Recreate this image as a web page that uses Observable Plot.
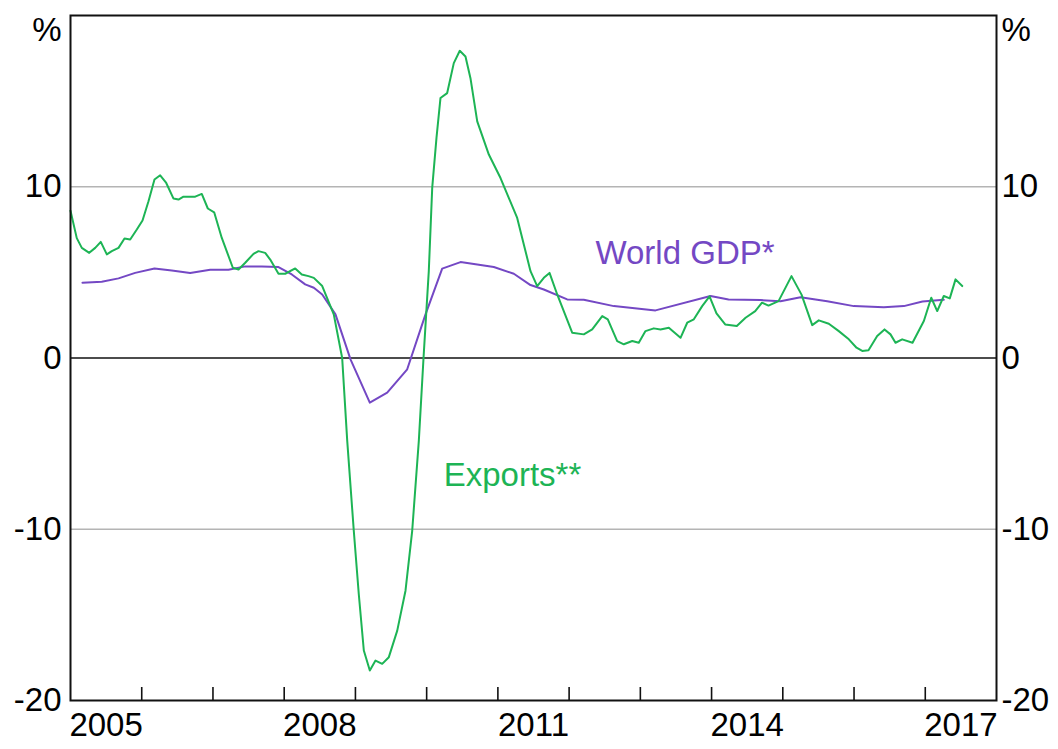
<!DOCTYPE html>
<html>
<head>
<meta charset="utf-8">
<script src="https://cdn.jsdelivr.net/npm/d3@7"></script>
<script src="https://cdn.jsdelivr.net/npm/@observablehq/plot@0.6"></script>
<style>
  html, body { margin: 0; padding: 0; background: #fff; }
  #chart { width: 1058px; height: 749px; }
  svg { font-family: "Liberation Sans", Arial, sans-serif; }
</style>
</head>
<body>
<div id="chart"></div>
<script>
// Exports** : year-ended growth, % (decimal year, value)
const exportsT = [2005.000,2005.088,2005.159,2005.263,2005.347,2005.425,2005.510,2005.580,2005.674,2005.758,2005.838,2005.931,
  2006.011,2006.095,2006.179,2006.259,2006.344,2006.446,2006.516,2006.586,2006.751,2006.843,2006.928,
  2007.017,2007.124,2007.279,2007.359,2007.453,2007.569,2007.639,2007.733,2007.804,2007.920,
  2008.014,2008.155,2008.247,2008.341,2008.416,2008.534,2008.696,2008.814,2008.885,2008.977,
  2009.047,2009.118,2009.202,2009.282,2009.376,2009.469,2009.587,2009.703,2009.797,2009.890,2009.956,
  2010.030,2010.078,2010.138,2010.194,2010.288,2010.381,2010.465,2010.545,2010.615,2010.710,2010.873,
  2011.037,2011.153,2011.271,2011.364,2011.458,2011.552,2011.645,2011.725,2011.833,
  2012.043,2012.206,2012.324,2012.465,2012.543,2012.675,2012.768,2012.886,2012.978,
  2013.072,2013.189,2013.283,2013.400,2013.564,2013.658,2013.751,2013.868,2013.971,
  2014.069,2014.191,2014.354,2014.477,2014.613,2014.708,2014.799,2014.940,
  2015.122,2015.263,2015.413,2015.505,2015.646,2015.786,2015.927,
  2016.035,2016.115,2016.203,2016.325,2016.428,2016.512,2016.582,2016.676,2016.821,2016.980,
  2017.084,2017.168,2017.260,2017.344,2017.425,2017.519];
const exportsV = [8.6,7.0,6.43,6.14,6.43,6.78,6.05,6.24,6.43,6.98,6.92,7.5,
  8.03,9.15,10.42,10.67,10.22,9.31,9.25,9.42,9.42,9.58,8.73,
  8.51,7.01,5.27,5.17,5.56,6.08,6.24,6.14,5.75,4.92,
  4.92,5.23,4.88,4.78,4.68,4.2,2.55,0,-4.84,-10.09,
  -13.78,-17.08,-18.25,-17.67,-17.86,-17.47,-15.92,-13.59,-10.09,-4.84,0,
  5.07,9.93,12.85,15.18,15.47,17.22,17.94,17.61,16.34,13.82,11.88,
  10.51,9.35,8.18,6.63,5.07,4.2,4.68,4.97,3.71,
  1.48,1.38,1.67,2.45,2.26,0.99,0.8,0.99,0.89,
  1.57,1.73,1.67,1.77,1.18,2.06,2.26,3.03,3.6,
  2.6,1.96,1.87,2.35,2.74,3.23,3.06,3.32,
  4.78,3.7,1.92,2.2,2.0,1.57,1.09,
  0.6,0.41,0.45,1.28,1.67,1.38,0.89,1.09,0.89,2.16,
  3.52,2.74,3.62,3.48,4.59,4.2];

// World GDP* : year-ended growth, % (decimal year, value)
const gdpT = [2005.168,2005.439,2005.674,2005.908,2006.179,2006.422,2006.680,2006.961,2007.218,2007.453,2007.686,2007.920,
  2008.107,2008.295,2008.416,2008.534,2008.720,2008.931,2009.202,2009.446,2009.727,2009.984,
  2010.218,2010.475,2010.710,2010.943,2011.224,2011.458,2011.645,2011.973,2012.206,2012.628,
  2013.213,2013.985,2014.238,2014.687,2014.968,2015.249,2015.623,2015.997,2016.418,2016.699,2016.961,2017.260];
const gdpV = [4.39,4.45,4.65,4.97,5.23,5.11,4.96,5.15,5.15,5.35,5.35,5.31,
  4.88,4.3,4.1,3.71,2.55,-0.08,-2.61,-2.02,-0.66,2.55,
  5.22,5.6,5.46,5.31,4.92,4.26,4.0,3.42,3.4,3.03,
  2.78,3.62,3.42,3.38,3.32,3.55,3.32,3.03,2.97,3.03,3.3,3.4];

const yTicks = [-20, -10, 0, 10];
const gridValues = [-10, 10];
const yearTicks = [2006,2007,2008,2009,2010,2011,2012,2013,2014,2015,2016,2017];
const yearLabels = [2005, 2008, 2011, 2014, 2017];
const seriesNames = ["Exports**", "World GDP*"];
const labelX = [2010.24, 2012.37];
const labelY = [-6.85, 6.1];

const green = "#1db455";
const purple = "#7448c4";

const exportsData = exportsT.map((t, i) => ({t, v: exportsV[i]}));
const gdpData = gdpT.map((t, i) => ({t, v: gdpV[i]}));
const labels = seriesNames.map((name, i) => ({name, x: labelX[i], y: labelY[i], color: i === 0 ? green : purple}));

const chart = Plot.plot({
  width: 1058,
  height: 749,
  marginTop: 15,
  marginBottom: 49,
  marginLeft: 70,
  marginRight: 62,
  style: {fontSize: "33px", fontFamily: "'Liberation Sans', Arial, sans-serif", color: "#000", background: "#fff"},
  x: {domain: [2005, 2018]},
  y: {domain: [-20, 20]},
  marks: [
    Plot.ruleY(gridValues, {stroke: "#b4b4b4", strokeWidth: 1.5}),
    Plot.ruleY([0], {stroke: "#111", strokeWidth: 1.6}),
    Plot.ruleX(yearTicks, {x: d => d, y1: -20, y2: -20, insetTop: -13, stroke: "#111", strokeWidth: 1.6}),
    Plot.line(gdpData, {x: "t", y: "v", stroke: purple, strokeWidth: 2}),
    Plot.line(exportsData, {x: "t", y: "v", stroke: green, strokeWidth: 2}),
    Plot.text(labels, {x: "x", y: "y", text: "name", fill: "color", textAnchor: "start", lineAnchor: "middle", fontSize: 33}),
    Plot.axisY(yTicks, {anchor: "left", tickSize: 0, tickPadding: 9, tickFormat: d => String(d), label: null, fontSize: 33}),
    Plot.axisY(yTicks, {anchor: "right", tickSize: 0, tickPadding: 5, tickFormat: d => String(d), label: null, fontSize: 33}),
    Plot.text(["%"], {frameAnchor: "top-left", textAnchor: "end", lineAnchor: "middle", dx: -9, dy: 15, fontSize: 33}),
    Plot.text(["%"], {frameAnchor: "top-right", textAnchor: "start", lineAnchor: "middle", dx: 5, dy: 15, fontSize: 33}),
    Plot.axisX(yearLabels.map(y => y + 0.5), {anchor: "bottom", tickSize: 0, tickPadding: 12, tickFormat: d => String(Math.floor(d)), label: null, fontSize: 33}),
    Plot.frame({stroke: "#111", strokeWidth: 2})
  ]
});
document.getElementById("chart").appendChild(chart);
</script>
</body>
</html>
